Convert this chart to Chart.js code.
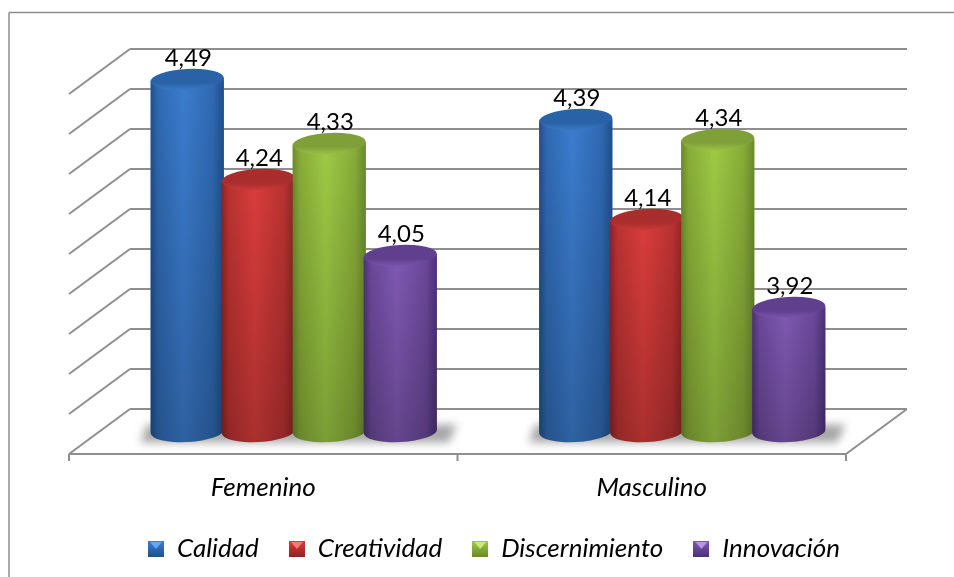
<!DOCTYPE html>
<html>
<head>
<meta charset="utf-8">
<style>
  html, body { margin: 0; background: #fff; }
  canvas { display: block; }
</style>
<script src="https://cdn.jsdelivr.net/npm/chart.js@4"></script>
</head>
<body>
<canvas id="chart" width="954" height="577"></canvas>
<script>
const categories = ["Femenino", "Masculino"];
const seriesNames = ["Calidad", "Creatividad", "Discernimiento", "Innovación"];
const calidad = [4.49, 4.39];
const creatividad = [4.24, 4.14];
const discernimiento = [4.33, 4.34];
const innovacion = [4.05, 3.92];
const gridValues = [3.61, 3.71, 3.81, 3.91, 4.01, 4.11, 4.21, 4.31, 4.41, 4.51];

const palette = [
  { edge: "#1f4f8c", soft: "#2f69b2", mid: "#3b7dcf", cap: "#2a62a8", rim: "#3a78c4", light: "#62a8f5" },
  { edge: "#8c2423", soft: "#b93231", mid: "#da3d3b", cap: "#a82d2c", rim: "#c93a38", light: "#f47a76" },
  { edge: "#6a8a2c", soft: "#88ac38", mid: "#9ecb44", cap: "#7f9f38", rim: "#98bf44", light: "#c8ea78" },
  { edge: "#4b3176", soft: "#6a4899", mid: "#8059b3", cap: "#5f3f8e", rim: "#7a55ab", light: "#b896e4" }
];

const depthX = 30.5;
const depthY = 22.5;
const lineColor = "#8e8e8e";
const fontFamily = "Lato, 'Open Sans', sans-serif";

function legendMarker(c) {
  const m = document.createElement("canvas");
  m.width = 16; m.height = 16;
  const g = m.getContext("2d");
  const fill = g.createLinearGradient(0, 0, 0, 16);
  fill.addColorStop(0, c.mid);
  fill.addColorStop(1, c.edge);
  g.fillStyle = fill;
  g.fillRect(0, 0, 16, 16);
  g.fillStyle = c.light;
  g.beginPath();
  g.moveTo(2, 1); g.lineTo(14, 1); g.lineTo(8, 8);
  g.closePath();
  g.fill();
  return m;
}
const markers = palette.map(legendMarker);

function line(ctx, x1, y1, x2, y2) {
  ctx.beginPath();
  ctx.moveTo(x1, y1);
  ctx.lineTo(x2, y2);
  ctx.stroke();
}

function drawCylinder(ctx, bar, c) {
  const rx = bar.width / 2;
  const ry = 10.5;
  const rot = -0.05;
  const tilt = rx * Math.sin(-rot);
  const x = bar.x, top = bar.y, base = bar.base;

  ctx.beginPath();
  ctx.moveTo(x - rx, top + tilt);
  ctx.lineTo(x - rx, base + tilt);
  ctx.ellipse(x, base, rx, ry, rot, Math.PI, 0, true);
  ctx.lineTo(x + rx, top - tilt);
  ctx.closePath();
  const side = ctx.createLinearGradient(x - rx, 0, x + rx, 0);
  side.addColorStop(0, c.edge);
  side.addColorStop(0.1, c.soft);
  side.addColorStop(0.45, c.mid);
  side.addColorStop(0.85, c.soft);
  side.addColorStop(1, c.edge);
  ctx.fillStyle = side;
  ctx.fill();
  const shade = ctx.createLinearGradient(0, top, 0, base + ry);
  shade.addColorStop(0, "rgba(0,0,0,0)");
  shade.addColorStop(1, "rgba(0,0,0,0.22)");
  ctx.fillStyle = shade;
  ctx.fill();

  ctx.beginPath();
  ctx.ellipse(x, top, rx, ry, rot, 0, Math.PI * 2);
  const cap = ctx.createLinearGradient(0, top - ry, 0, top + ry);
  cap.addColorStop(0, c.cap);
  cap.addColorStop(0.65, c.cap);
  cap.addColorStop(1, c.rim);
  ctx.fillStyle = cap;
  ctx.fill();
}

const cylinders = {
  id: "cylinders",
  afterLayout(chart) {
    // legend sits a little right of the plot centre in the original
    chart.legend.left += 6;
    chart.legend.right += 6;
  },
  beforeDraw(chart) {
    const ctx = chart.ctx;
    ctx.save();
    ctx.strokeStyle = lineColor;
    ctx.lineWidth = 1.5;
    line(ctx, 9, 577, 9, 12.5);
    line(ctx, 9, 12.5, 954, 12.5);
    ctx.restore();
  },
  beforeDatasetsDraw(chart) {
    const ctx = chart.ctx;
    const a = chart.chartArea;
    const y = chart.scales.y;
    const bottom = a.bottom;
    ctx.save();
    ctx.strokeStyle = lineColor;
    ctx.lineWidth = 2;
    // back wall and side wall
    gridValues.forEach(v => {
      const py = y.getPixelForValue(v);
      line(ctx, a.left - depthX, py + depthY, a.left + depthX, py - depthY);
      line(ctx, a.left + depthX, py - depthY, a.right + depthX, py - depthY);
    });
    // floor
    line(ctx, a.left - depthX, bottom + depthY, a.right - depthX, bottom + depthY);
    line(ctx, a.right - depthX, bottom + depthY, a.right + depthX, bottom - depthY);
    const step = (a.right - a.left) / categories.length;
    for (let i = 0; i <= categories.length; i++) {
      const tx = a.left - depthX + i * step;
      line(ctx, tx, bottom + depthY, tx, bottom + depthY + 7);
    }
    // soft shadow under each group
    ctx.filter = "blur(4px)";
    ctx.fillStyle = "rgba(120,120,120,0.65)";
    categories.forEach((_, i) => {
      const first = chart.getDatasetMeta(0).data[i];
      const last = chart.getDatasetMeta(seriesNames.length - 1).data[i];
      const l = first.x - first.width / 2 - 16;
      const r = last.x + last.width / 2 + 20;
      ctx.beginPath();
      ctx.moveTo(l + 6, bottom + 11);
      ctx.lineTo(r - 8, bottom + 11);
      ctx.lineTo(r, bottom - 7);
      ctx.lineTo(l + 12, bottom - 7);
      ctx.closePath();
      ctx.fill();
    });
    ctx.restore();
  },
  afterDatasetsDraw(chart) {
    const ctx = chart.ctx;
    ctx.save();
    categories.forEach((_, i) => {
      seriesNames.forEach((__, s) => {
        drawCylinder(ctx, chart.getDatasetMeta(s).data[i], palette[s]);
      });
    });
    ctx.fillStyle = "#000";
    ctx.font = "24px " + fontFamily;
    ctx.textAlign = "center";
    ctx.textBaseline = "middle";
    chart.data.datasets.forEach((ds, s) => {
      chart.getDatasetMeta(s).data.forEach((bar, i) => {
        ctx.fillText(ds.data[i].toFixed(2).replace(".", ","), bar.x + 1, bar.y - 21);
      });
    });
    ctx.restore();
  }
};

const seriesValues = [calidad, creatividad, discernimiento, innovacion];

new Chart(document.getElementById("chart"), {
  type: "bar",
  data: {
    labels: categories,
    datasets: seriesNames.map((name, s) => ({
      label: name,
      data: seriesValues[s],
      base: gridValues[0],
      backgroundColor: palette[s].mid,
      categoryPercentage: 0.731,
      barPercentage: 1.03
    }))
  },
  options: {
    responsive: false,
    animation: false,
    layout: { padding: { top: 71.5, left: 99.5, right: 77.5, bottom: 5 } },
    scales: {
      x: {
        grid: { display: false },
        border: { display: false },
        afterFit(scale) { scale.height = 74.5; },
        ticks: {
          color: "#000",
          padding: 32.5,
          labelOffset: -depthX,
          maxRotation: 0,
          font: { family: fontFamily, size: 26, style: "italic" }
        }
      },
      y: { display: false, min: gridValues[0], max: gridValues[gridValues.length - 1] }
    },
    plugins: {
      tooltip: { enabled: false },
      legend: {
        position: "bottom",
        labels: {
          usePointStyle: true,
          pointStyleWidth: 16,
          padding: 30,
          color: "#000",
          font: { family: fontFamily, size: 26, style: "italic" },
          generateLabels(chart) {
            return Chart.defaults.plugins.legend.labels.generateLabels(chart).map((item, s) => {
              item.pointStyle = markers[s];
              return item;
            });
          }
        }
      }
    }
  },
  plugins: [cylinders]
});
</script>
</body>
</html>
